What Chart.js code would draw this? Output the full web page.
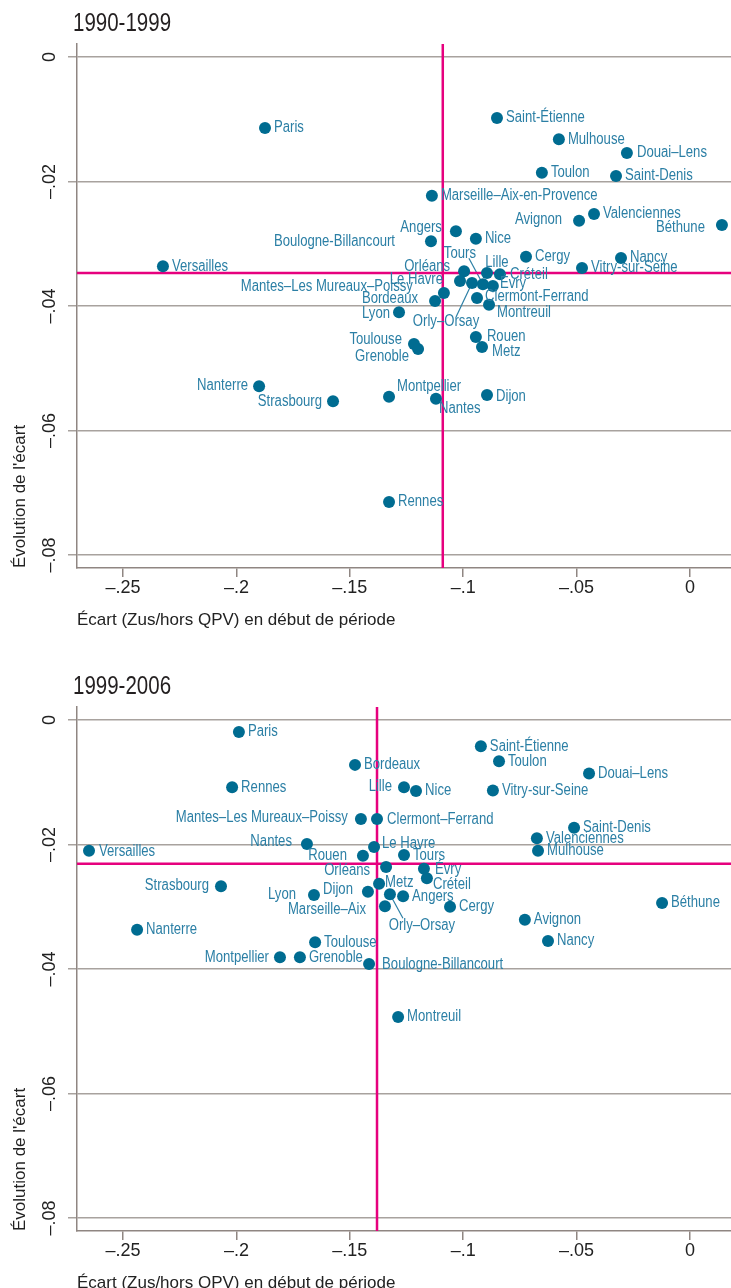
<!DOCTYPE html>
<html>
<head>
<meta charset="utf-8">
<script src="https://cdn.jsdelivr.net/npm/chart.js@4/dist/chart.umd.min.js"></script>
<style>
  body { margin: 0; background: #fff; overflow: hidden; }
  .panel { position: relative; width: 731px; height: 663px; }
</style>
</head>
<body>
<div class="panel"><canvas id="c1990" width="731" height="663"></canvas></div>
<div class="panel"><canvas id="c1999" width="731" height="663"></canvas></div>
<script>
// axis ticks shared by both panels
var xTickValues = [-0.25, -0.2, -0.15, -0.1, -0.05, 0];
var yTickValues = [0, -0.02, -0.04, -0.06, -0.08];

// 1990-1999
var cities1 = ['Paris', 'Saint-Étienne', 'Mulhouse', 'Douai–Lens', 'Toulon', 'Saint-Denis',
  'Marseille–Aix-en-Provence', 'Avignon', 'Valenciennes', 'Béthune', 'Angers', 'Boulogne-Billancourt',
  'Nice', 'Cergy', 'Nancy', 'Vitry-sur-Seine', 'Versailles', 'Tours', 'Orléans', 'Lille', 'Créteil',
  'Le Havre', 'Évry', 'Mantes–Les Mureaux–Poissy', 'Clermont-Ferrand', 'Bordeaux', 'Montreuil', 'Lyon',
  'Orly–Orsay', 'Rouen', 'Metz', 'Toulouse', 'Grenoble', 'Nanterre', 'Strasbourg', 'Montpellier',
  'Nantes', 'Dijon', 'Rennes'];
var ecart1 = [-0.1874, -0.0851, -0.0578, -0.0278, -0.0653, -0.0326,
  -0.1138, -0.0489, -0.0423, 0.0141, -0.1032, -0.1142,
  -0.0944, -0.0723, -0.0304, -0.0476, -0.2324, -0.0913, -0.0996, -0.0895, -0.0838,
  -0.1014, -0.0869, -0.1085, -0.0939, -0.1124, -0.0886, -0.1283,
  -0.0961, -0.0944, -0.0917, -0.1217, -0.1199, -0.1900, -0.1574, -0.1327,
  -0.1120, -0.0895, -0.1327];
var evol1 = [-0.0114, -0.0098, -0.0132, -0.0154, -0.0186, -0.0191,
  -0.0223, -0.0263, -0.0252, -0.0270, -0.0280, -0.0296,
  -0.0292, -0.0321, -0.0323, -0.0339, -0.0336, -0.0365, -0.0344, -0.0347, -0.0349,
  -0.0360, -0.0368, -0.0379, -0.0387, -0.0392, -0.0398, -0.0410,
  -0.0363, -0.0450, -0.0466, -0.0461, -0.0469, -0.0529, -0.0553, -0.0546,
  -0.0549, -0.0543, -0.0715];
var meanEcart1 = -0.109;
var meanEvol1 = -0.0347;

// 1999-2006
var cities2 = ['Paris', 'Saint-Étienne', 'Mulhouse', 'Douai–Lens', 'Toulon', 'Saint-Denis',
  'Marseille–Aix', 'Avignon', 'Valenciennes', 'Béthune', 'Angers', 'Boulogne-Billancourt',
  'Nice', 'Cergy', 'Nancy', 'Vitry-sur-Seine', 'Versailles', 'Tours', 'Orléans', 'Lille', 'Créteil',
  'Le Havre', 'Évry', 'Mantes–Les Mureaux–Poissy', 'Clermont–Ferrand', 'Bordeaux', 'Montreuil', 'Lyon',
  'Orly–Orsay', 'Rouen', 'Metz', 'Toulouse', 'Grenoble', 'Nanterre', 'Strasbourg', 'Montpellier',
  'Nantes', 'Dijon', 'Rennes'];
var ecart2 = [-0.1989, -0.0922, -0.0670, -0.0445, -0.0842, -0.0511,
  -0.1345, -0.0728, -0.0675, -0.0123, -0.1265, -0.1415,
  -0.1208, -0.1058, -0.0626, -0.0869, -0.2650, -0.1261, -0.1340, -0.1261, -0.1160,
  -0.1393, -0.1173, -0.1451, -0.1380, -0.1477, -0.1287, -0.1658,
  -0.1323, -0.1442, -0.1371, -0.1653, -0.1720, -0.2438, -0.2068, -0.1808,
  -0.1689, -0.1420, -0.2019];
var evol2 = [-0.0019, -0.0042, -0.0210, -0.0086, -0.0066, -0.0173,
  -0.0299, -0.0321, -0.0190, -0.0294, -0.0283, -0.0392,
  -0.0114, -0.0300, -0.0355, -0.0113, -0.0210, -0.0217, -0.0236, -0.0108, -0.0254,
  -0.0204, -0.0239, -0.0159, -0.0159, -0.0072, -0.0477, -0.0281,
  -0.0280, -0.0218, -0.0263, -0.0357, -0.0381, -0.0337, -0.0267, -0.0381,
  -0.0199, -0.0276, -0.0108];
var meanEcart2 = -0.138;
var meanEvol2 = -0.0231;

// label placement: [dx, dy, align] from the dot, default to the right
var place1 = {
  'Douai–Lens': [10, 0, 'left'], 'Avignon': [-17, -1, 'right'], 'Béthune': [-17, 2, 'right'],
  'Angers': [-14, -4, 'right'], 'Boulogne-Billancourt': [-36, 0, 'right'], 'Tours': [-23, -31, 'center'],
  'Orléans': [-14, -5, 'right'], 'Lille': [10, -10, 'center'], 'Créteil': [10, 0, 'left'],
  'Le Havre': [-17, -2, 'right'], 'Évry': [7, -2, 'left'], 'Mantes–Les Mureaux–Poissy': [-31, -6, 'right'],
  'Clermont-Ferrand': [8, -1, 'left'], 'Bordeaux': [-17, -2, 'right'], 'Montreuil': [8, 8, 'left'],
  'Lyon': [-9, 1, 'right'], 'Orly–Orsay': [-26, 39, 'center'], 'Rouen': [11, -1, 'left'],
  'Metz': [10, 5, 'left'], 'Toulouse': [-12, -4, 'right'], 'Grenoble': [-9, 8, 'right'],
  'Nanterre': [-11, -1, 'right'], 'Strasbourg': [-11, 0, 'right'], 'Montpellier': [8, -10, 'left'],
  'Nantes': [3, 10, 'left'], 'Dijon': [9, 2, 'left']
};
var leaders1 = { 'Tours': [-14, -26], 'Orly–Orsay': [-16, 34] };

var place2 = {
  'Lille': [-12, -1, 'right'], 'Mantes–Les Mureaux–Poissy': [-13, -1, 'right'],
  'Clermont–Ferrand': [10, 1, 'left'], 'Nantes': [-15, -2, 'right'], 'Versailles': [10, 1, 'left'],
  'Le Havre': [8, -3, 'left'], 'Rouen': [-16, 0, 'right'], 'Orléans': [-16, 4, 'right'],
  'Évry': [11, 1, 'left'], 'Créteil': [6, 6, 'left'], 'Strasbourg': [-12, -1, 'right'],
  'Metz': [6, -1, 'left'], 'Dijon': [-15, -2, 'right'], 'Lyon': [-18, 0, 'right'],
  'Orly–Orsay': [32, 31, 'center'], 'Marseille–Aix': [-19, 3, 'right'],
  'Montpellier': [-11, 0, 'right'], 'Boulogne-Billancourt': [13, 1, 'left']
};
var leaders2 = { 'Orly–Orsay': [13, 24] };

var FONT = "'Liberation Sans', Arial, sans-serif";
var NARROW = 0.82; // squeeze for the condensed look of the labels
var DOT = '#006c91';
var LABEL = '#2b7fa5';
var MAGENTA = '#e6007e';
var GRID = '#a8a29e';
var AXIS = '#8f8682';
var X_MIN = -0.2703, X_MAX = 0.0181, Y_MIN = -0.0821, Y_MAX = 0.0021;

function fmt(v) {
  var r = Math.round(v * 100) / 100;
  if (r === 0) return '0';
  return (r < 0 ? '–' : '') + String(Math.abs(r)).replace(/^0/, '');
}

function narrowText(ctx, text, x, y, align) {
  ctx.save();
  ctx.translate(x, y);
  ctx.scale(NARROW, 1);
  ctx.textAlign = align;
  ctx.fillText(text, 0, 0);
  ctx.restore();
}

var cityLabels = {
  id: 'cityLabels',
  beforeDatasetsDraw: function (chart, args, opts) {
    var ctx = chart.ctx;
    var meta = chart.getDatasetMeta(0);
    ctx.save();
    ctx.strokeStyle = LABEL;
    ctx.lineWidth = 1.2;
    meta.data.forEach(function (pt, i) {
      var l = opts.leaders[opts.names[i]];
      if (!l) return;
      ctx.beginPath();
      ctx.moveTo(pt.x + l[0], pt.y + l[1]);
      ctx.lineTo(pt.x, pt.y);
      ctx.stroke();
    });
    ctx.restore();
  },
  afterDatasetsDraw: function (chart, args, opts) {
    var ctx = chart.ctx;
    var meta = chart.getDatasetMeta(0);
    ctx.save();
    ctx.font = '16px ' + FONT;
    ctx.fillStyle = LABEL;
    ctx.textBaseline = 'middle';
    meta.data.forEach(function (pt, i) {
      var name = opts.names[i];
      var p = opts.place[name] || [9, 0, 'left'];
      narrowText(ctx, name, pt.x + p[0], pt.y + p[1], p[2]);
    });
    ctx.restore();
  }
};

var panelTitle = {
  id: 'panelTitle',
  afterDraw: function (chart, args, opts) {
    var ctx = chart.ctx;
    ctx.save();
    ctx.font = '25px ' + FONT;
    ctx.fillStyle = '#231f20';
    ctx.textBaseline = 'middle';
    narrowText(ctx, opts.text, chart.chartArea.left - 4, chart.chartArea.top - 20, 'left');
    ctx.restore();
  }
};

function makeChart(id, title, cities, xs, ys, meanX, meanY, place, leaders) {
  var points = cities.map(function (c, i) { return { x: xs[i], y: ys[i] }; });
  return new Chart(document.getElementById(id), {
    type: 'scatter',
    data: {
      datasets: [{
        data: points,
        backgroundColor: DOT,
        borderWidth: 0,
        pointRadius: 6,
        pointHoverRadius: 6,
        order: 1
      }, {
        type: 'line',
        data: [{ x: X_MIN, y: meanY }, { x: X_MAX, y: meanY }],
        borderColor: MAGENTA,
        borderWidth: 2.5,
        pointRadius: 0,
        order: 2
      }, {
        type: 'line',
        data: [{ x: meanX, y: Y_MIN }, { x: meanX, y: Y_MAX }],
        borderColor: MAGENTA,
        borderWidth: 2.5,
        pointRadius: 0,
        order: 2
      }]
    },
    options: {
      responsive: false,
      animation: false,
      events: [],
      layout: { autoPadding: false, padding: { top: 44, right: 0, left: 0, bottom: 0 } },
      plugins: {
        legend: { display: false },
        tooltip: { enabled: false },
        cityLabels: { names: cities, place: place, leaders: leaders },
        panelTitle: { text: title }
      },
      scales: {
        x: {
          type: 'linear',
          min: X_MIN,
          max: X_MAX,
          afterBuildTicks: function (s) { s.ticks = xTickValues.map(function (v) { return { value: v }; }); },
          afterFit: function (s) { s.height = 95; },
          ticks: {
            callback: fmt, autoSkip: false, maxRotation: 0, padding: 0,
            color: '#222', font: { family: FONT, size: 18 }
          },
          grid: { drawOnChartArea: false, drawTicks: true, tickLength: 9, color: AXIS, lineWidth: 1.5 },
          border: { display: true, color: AXIS, width: 1.5 },
          title: {
            display: true, align: 'start', text: 'Écart (Zus/hors QPV) en début de période',
            color: '#222', font: { family: FONT, size: 17 }, padding: { top: 0, bottom: 32 }
          }
        },
        y: {
          type: 'linear',
          min: Y_MIN,
          max: Y_MAX,
          afterBuildTicks: function (s) { s.ticks = yTickValues.map(function (v) { return { value: v }; }); },
          afterFit: function (s) { s.width = 77; },
          ticks: {
            callback: fmt, autoSkip: false, minRotation: 90, maxRotation: 90, crossAlign: 'center',
            padding: 0, color: '#222', font: { family: FONT, size: 18 }
          },
          grid: { drawTicks: true, tickLength: 9, color: GRID, lineWidth: 1.5 },
          border: { display: true, color: AXIS, width: 1.5 },
          title: {
            display: true, align: 'start', text: "Évolution de l'écart",
            color: '#222', font: { family: FONT, size: 17 }, padding: { top: 10, bottom: 0 }
          }
        }
      }
    },
    plugins: [cityLabels, panelTitle]
  });
}

makeChart('c1990', '1990-1999', cities1, ecart1, evol1, meanEcart1, meanEvol1, place1, leaders1);
makeChart('c1999', '1999-2006', cities2, ecart2, evol2, meanEcart2, meanEvol2, place2, leaders2);
</script>
</body>
</html>
